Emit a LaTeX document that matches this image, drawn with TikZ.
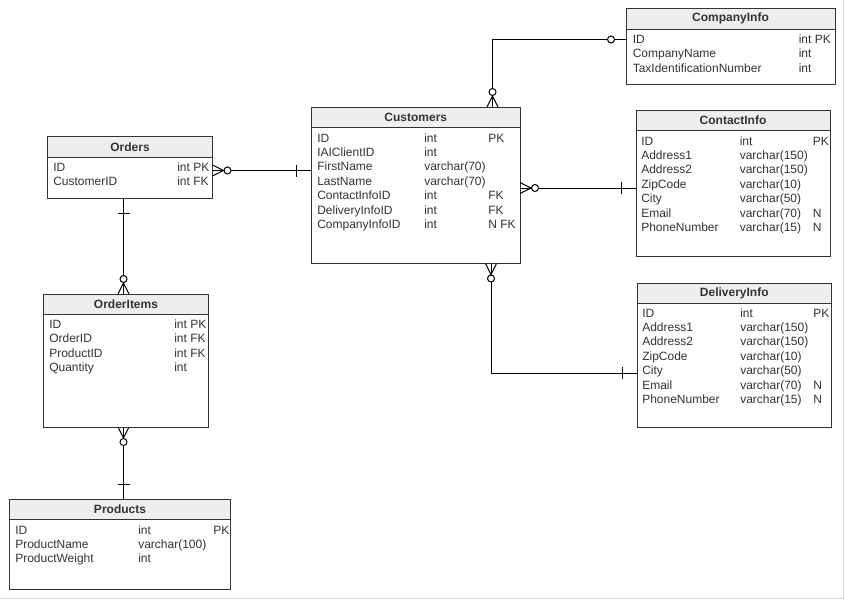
\documentclass[tikz,border=0pt]{standalone}
\usepackage{fontspec}
\setmainfont{Liberation Sans}
\usetikzlibrary{calc}
\definecolor{boxc}{HTML}{333333}
\definecolor{hdrc}{HTML}{EEEEEE}
\definecolor{txtc}{HTML}{333333}
\tikzset{
  tbl/.style={draw=boxc, fill=white, line width=0.75pt, anchor=north west, inner sep=0pt, outer sep=0pt},
  hdr/.style={draw=boxc, fill=hdrc, line width=0.75pt, anchor=north west, inner sep=0pt, outer sep=0pt, minimum height=20.5*0.75pt},
  ttl/.style={inner sep=0pt, text=txtc, font=\bfseries\fontsize{9}{10}\selectfont},
  cell/.style={anchor=base west, inner sep=0pt, text=txtc, font=\fontsize{9}{10}\selectfont},
  conn/.style={draw=black, line width=0.75pt},
  zmany/.pic={\draw[conn] (0,5.5)--(11,0)--(0,-5.5); \draw[conn,fill=white] (15,0) circle[radius=3.5];},
  one/.pic={\draw[conn] (15,-6)--(15,6);},
  zcirc/.pic={\draw[conn,fill=white] (15,0) circle[radius=3.5];}
}
\newcommand\ertable[6]{%
  \node[tbl, minimum width={(#4-#2)*0.75pt}, minimum height={(#5-#3)*0.75pt}] (#1) at (#2,#3) {};
  \node[hdr, minimum width={(#4-#2)*0.75pt}] (#1-h) at (#2,#3) {};
  \node[ttl] (#1-t) at (#1-h.center) {#6};
}
\newcommand\errows[6]{%
  \foreach [count=\i] \a/\b/\c in {#6} {
    \node[cell] (#1-a\i) at ({#2},{#3+14.4*(\i-1)}) {\a};
    \node[cell] (#1-b\i) at ({#4},{#3+14.4*(\i-1)}) {\b};
    \node[cell] (#1-c\i) at ({#5},{#3+14.4*(\i-1)}) {\c};
  }
}
\begin{document}
\begin{tikzpicture}[x=0.75pt, y=-0.75pt]
\useasboundingbox (0,0) rectangle (845,600);
\draw[gray!30, line width=0.75pt] (0,598.5) -- (843.5,598.5) -- (843.5,0);

\ertable{comp}{626}{8.5}{835}{84}{CompanyInfo}
\errows{comp}{632.5}{43.5}{798.5}{0}{ID/int PK/, CompanyName/int/, TaxIdentificationNumber/int/}

\ertable{cust}{311.5}{107}{520}{263.5}{Customers}
\errows{cust}{317}{142}{424}{488}{ID/int/PK, IAIClientID/int/, FirstName/varchar(70)/, LastName/varchar(70)/, ContactInfoID/int/FK, DeliveryInfoID/int/FK, CompanyInfoID/int/N FK}

\ertable{ord}{47.5}{136.5}{212.5}{198.5}{Orders}
\errows{ord}{53}{171.5}{177}{0}{ID/int PK/, CustomerID/int FK/}

\ertable{cont}{636}{110}{830}{256}{ContactInfo}
\errows{cont}{641}{145}{739.5}{812.5}{ID/int/PK, Address1/varchar(150)/, Address2/varchar(150)/, ZipCode/varchar(10)/, City/varchar(50)/, Email/varchar(70)/N, PhoneNumber/varchar(15)/N}

\ertable{deliv}{637}{283}{831.5}{427}{DeliveryInfo}
\errows{deliv}{642}{317}{740}{813}{ID/int/PK, Address1/varchar(150)/, Address2/varchar(150)/, ZipCode/varchar(10)/, City/varchar(50)/, Email/varchar(70)/N, PhoneNumber/varchar(15)/N}

\ertable{oi}{43.5}{294}{208.5}{427}{OrderItems}
\errows{oi}{49}{328.5}{174}{0}{ID/int PK/, OrderID/int FK/, ProductID/int FK/, Quantity/int/}

\ertable{prod}{9.5}{499}{230.5}{589}{Products}
\errows{prod}{15}{534}{138}{213}{ID/int/PK, ProductName/varchar(100)/, ProductWeight/int/}

% connectors
\path (cust.north west) ++(181,0) coordinate (e1a);
\path (comp.north west) ++(0,31) coordinate (e1b);
\draw[conn] (e1a) |- (e1b);
\pic[rotate=90] at (e1a) {zmany};
\pic[rotate=180] at (e1b) {zcirc};

\path (ord.north east) ++(0,34) coordinate (e2a);
\coordinate (e2b) at (e2a -| cust.west);
\draw[conn] (e2a) -- (e2b);
\pic at (e2a) {zmany};
\pic[rotate=180] at (e2b) {one};

\path (cust.north east) ++(0,81) coordinate (e3a);
\coordinate (e3b) at (e3a -| cont.west);
\draw[conn] (e3a) -- (e3b);
\pic at (e3a) {zmany};
\pic[rotate=180] at (e3b) {one};

\path (cust.south west) ++(179.5,0) coordinate (e4a);
\path (deliv.north west) ++(0,90) coordinate (e4b);
\draw[conn] (e4a) |- (e4b);
\pic[rotate=-90] at (e4a) {zmany};
\pic[rotate=180] at (e4b) {one};

\path (ord.south west) ++(76,0) coordinate (e5a);
\coordinate (e5b) at (e5a |- oi.north);
\draw[conn] (e5a) -- (e5b);
\pic[rotate=-90] at (e5a) {one};
\pic[rotate=90] at (e5b) {zmany};

\path (oi.south west) ++(80,0) coordinate (e6a);
\coordinate (e6b) at (e6a |- prod.north);
\draw[conn] (e6a) -- (e6b);
\pic[rotate=-90] at (e6a) {zmany};
\pic[rotate=90] at (e6b) {one};
\end{tikzpicture}
\end{document}
